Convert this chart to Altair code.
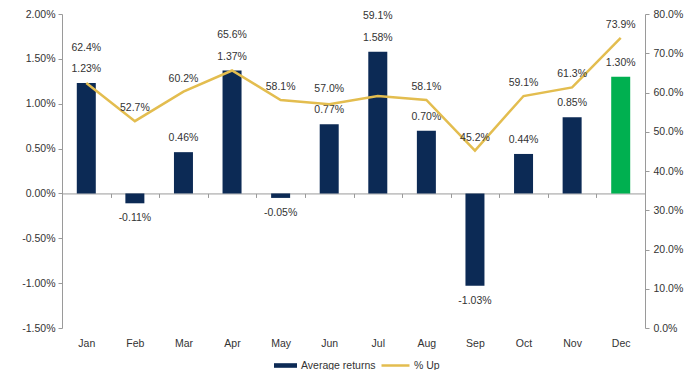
import altair as alt
import numpy as np
import pandas as pd

months = ["Jan", "Feb", "Mar", "Apr", "May", "Jun", "Jul", "Aug", "Sep", "Oct", "Nov", "Dec"]
avg_returns = [1.23, -0.11, 0.46, 1.37, -0.05, 0.77, 1.58, 0.70, -1.03, 0.44, 0.85, 1.30]
pct_up = [62.4, 52.7, 60.2, 65.6, 58.1, 57.0, 59.1, 58.1, 45.2, 59.1, 61.3, 73.9]

left_ticks = [-1.5, -1.0, -0.5, 0.0, 0.5, 1.0, 1.5, 2.0]
right_ticks = [0, 10, 20, 30, 40, 50, 60, 70, 80]
LEFT = [-1.5, 2.0]
RIGHT = [0.0, 80.0]

NAVY = "#0C2A55"
GOLD = "#E3BD4F"
GREEN = "#00B050"
TXT = "#333333"
AXC = "#9A9A9A"
FONT = "Liberation Sans Narrow, Liberation Sans, Arial"
FS = 10.5

W, H = 583, 314

df = pd.DataFrame({"month": months, "ret": avg_returns, "up": pct_up})
df["ret_label"] = [f"{v:.2f}%" for v in avg_returns]
df["up_label"] = [f"{v:.1f}%" for v in pct_up]
bar_equiv = (df["ret"] - LEFT[0]) / (LEFT[1] - LEFT[0]) * (RIGHT[1] - RIGHT[0]) + RIGHT[0]
df["up_pos"] = np.maximum(df["up"], np.where(df["ret"] > 0, bar_equiv + 5.7, 0))
df["s1"] = "Average returns"
df["s2"] = "% Up"

zero_offset = -H * (0 - LEFT[0]) / (LEFT[1] - LEFT[0])

x_axis = alt.Axis(
    title=None, labelAngle=0, offset=zero_offset, domainColor=AXC, tickColor=AXC,
    tickSize=4, tickBand="extent", labelPadding=141, labelFont=FONT,
    labelFontSize=FS, labelColor=TXT,
)
x_enc = alt.X("month:N", sort=months,
              scale=alt.Scale(paddingInner=0, paddingOuter=0), axis=x_axis)

left_axis = alt.Axis(
    title=None, values=left_ticks, grid=False, tickSize=4, domainColor=AXC,
    tickColor=AXC, labelFont=FONT, labelFontSize=FS, labelColor=TXT, labelPadding=3,
    labelExpr="replace(format(datum.value, '.2f'), '\u2212', '-') + '%'",
)
right_axis = alt.Axis(
    title=None, orient="right", values=right_ticks, grid=False, tickSize=4,
    domainColor=AXC, tickColor=AXC, labelFont=FONT, labelFontSize=FS,
    labelColor=TXT, labelPadding=4,
    labelExpr="format(datum.value, '.1f') + '%'",
)
left_scale = alt.Scale(domain=LEFT, nice=False, zero=False)
right_scale = alt.Scale(domain=RIGHT, nice=False, zero=False)

base = alt.Chart(df)

bars = base.mark_bar(size=19).encode(
    x=x_enc,
    y=alt.Y("ret:Q", scale=left_scale, axis=left_axis),
    fill=alt.condition(
        "datum.month == 'Dec'",
        alt.value(GREEN),
        alt.Fill("s1:N", scale=alt.Scale(domain=["Average returns"], range=[NAVY]),
                 legend=alt.Legend(title=None, orient="none", legendX=211, legendY=339,
                                   symbolType="M-1,-0.2H1V0.2H-1Z", symbolSize=529,
                                   labelFont=FONT, labelFontSize=FS, labelColor=TXT,
                                   padding=0, labelOffset=3)),
    ),
)
pos_text = base.transform_filter("datum.ret >= 0").mark_text(
    dy=-14, font=FONT, fontSize=FS, color=TXT
).encode(x=x_enc, y=alt.Y("ret:Q", scale=left_scale, axis=left_axis), text="ret_label:N")
neg_text = base.transform_filter("datum.ret < 0").mark_text(
    dy=15, font=FONT, fontSize=FS, color=TXT
).encode(x=x_enc, y=alt.Y("ret:Q", scale=left_scale, axis=left_axis), text="ret_label:N")

line = base.mark_line(strokeWidth=2.5).encode(
    x=x_enc,
    y=alt.Y("up:Q", scale=right_scale, axis=right_axis),
    stroke=alt.Stroke("s2:N", scale=alt.Scale(domain=["% Up"], range=[GOLD]),
                      legend=alt.Legend(title=None, orient="none", legendX=318, legendY=336,
                                        symbolType="stroke", symbolSize=784,
                                        symbolStrokeWidth=2.5, labelFont=FONT,
                                        labelFontSize=FS, labelColor=TXT, padding=0,
                                        labelOffset=3)),
)
up_text = base.mark_text(dy=-13, font=FONT, fontSize=FS, color=TXT).encode(
    x=x_enc, y=alt.Y("up_pos:Q", scale=right_scale, axis=right_axis), text="up_label:N"
)

left_layer = alt.layer(bars, pos_text, neg_text)
right_layer = alt.layer(line, up_text)

chart = alt.layer(left_layer, right_layer).resolve_scale(y="independent").properties(
    width=W, height=H,
    autosize=alt.AutoSizeParams(type="none"),
    padding={"left": 54, "top": 6, "right": 45, "bottom": 42},
    background="white",
).configure_view(stroke=None)

chart.save("out.html", embed_options={"renderer": "svg", "actions": False})
